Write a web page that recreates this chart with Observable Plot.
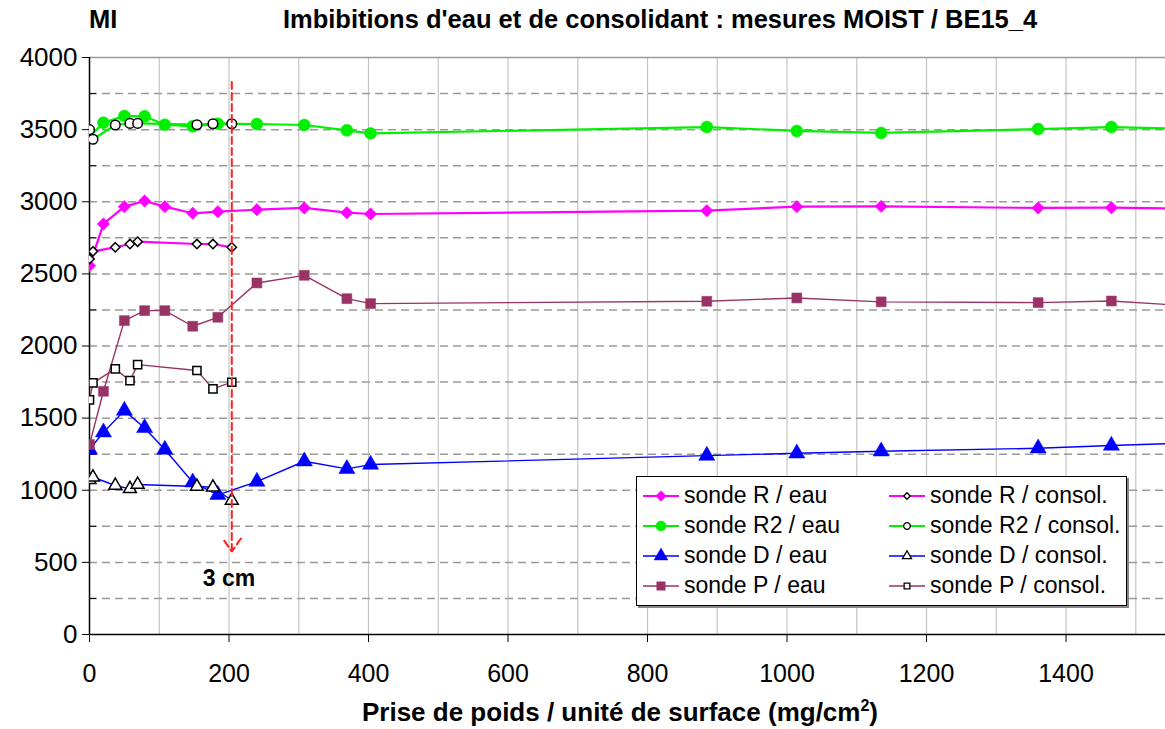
<!DOCTYPE html>
<html><head><meta charset="utf-8">
<script src="https://cdn.jsdelivr.net/npm/d3@7"></script>
<script src="https://cdn.jsdelivr.net/npm/@observablehq/plot@0.6"></script>
<style>
body{margin:0;background:#fff;font-family:'Liberation Sans',Arial,sans-serif;}
#wrap{position:relative;width:1165px;height:729px;overflow:hidden;background:#fff;}
#hdr{position:relative;height:40px;}
.ttl{position:absolute;top:5px;font-weight:bold;font-size:25.5px;white-space:nowrap;color:#000;}
#legend{position:absolute;left:636px;top:476px;width:489px;height:128px;border:1px solid #000;background:#fff;box-shadow:2px 2px 0 #888;}
.li{position:absolute;height:30px;font-size:23px;line-height:30px;white-space:nowrap;}
.li svg{position:absolute;left:0;top:0;}
.li span{position:absolute;left:41px;top:0;}
</style></head><body>
<div id="wrap">
  <div id="hdr">
    <span class="ttl" style="left:89px">MI</span>
    <span class="ttl" style="left:660px;transform:translateX(-50%)">Imbibitions d'eau et de consolidant : mesures MOIST / BE15_4</span>
  </div>
  <div id="chart"></div>
  <div id="legend"></div>
</div>
<script>
// ---- data ----
const eauX = [0, 20, 50, 79, 108, 148, 184, 240, 308, 369, 403, 885, 1014, 1135, 1360, 1465, 1600];
const rEau  = [2557, 2846, 2966, 3005, 2966, 2920, 2931, 2945, 2957, 2924, 2915, 2938, 2966, 2968, 2957, 2959, 2950];
const r2Eau = [3451, 3548, 3595, 3592, 3534, 3523, 3541, 3539, 3532, 3495, 3474, 3518, 3491, 3477, 3504, 3518, 3502];
const dEau  = [1282, 1402, 1552, 1432, 1282, 1055, 968, 1060, 1201, 1148, 1178, 1240, 1256, 1270, 1291, 1310, 1331];
const pEau  = [1317, 1686, 2176, 2245, 2245, 2137, 2199, 2437, 2490, 2328, 2294, 2310, 2333, 2306, 2301, 2312, 2271];

const consolX = [0, 5, 37, 58, 69, 154, 177, 204];
const rCon  = [2603, 2656, 2684, 2707, 2723, 2707, 2707, 2684];
const r2Con = [3500, 3433, 3532, 3543, 3543, 3534, 3541, 3541];
const dCon  = [1072, 1090, 1033, 1010, 1040, 1026, 1021, 929];
const pCon  = [1626, 1744, 1841, 1760, 1871, 1830, 1703, 1749];

const seriesNames = ["sonde R / eau", "sonde R / consol.", "sonde R2 / eau", "sonde R2 / consol.",
                     "sonde D / eau", "sonde D / consol.", "sonde P / eau", "sonde P / consol."];

const xTicks = [0, 200, 400, 600, 800, 1000, 1200, 1400];
const xGrid = [100, 200, 300, 400, 500, 600, 700, 800, 900, 1000, 1100, 1200, 1300, 1400, 1500];
const yTicks = [0, 500, 1000, 1500, 2000, 2500, 3000, 3500, 4000];
const yMinor = [250, 750, 1250, 1750, 2250, 2750, 3250, 3750];
const yGrid = [250, 500, 750, 1000, 1250, 1500, 1750, 2000, 2250, 2500, 2750, 3000, 3250, 3500, 3750];

const arrowX = 204, arrowTop = 3830, arrowBottom = 575;
const noteText = "3 cm", noteX = 200, noteY = 385;
const xLabel = "Prise de poids / unité de surface (mg/cm";

// ---- styles ----
const styles = [
  {name: seriesNames[0], xs: eauX, ys: rEau, color: "#ff00ff", symbol: "diamond2", filled: true, r: 5.6, sw: 2.2},
  {name: seriesNames[1], xs: consolX, ys: rCon, color: "#ff00ff", symbol: "diamond2", filled: false, r: 4.2, sw: 2.2},
  {name: seriesNames[2], xs: eauX, ys: r2Eau, color: "#00f000", symbol: "circle", filled: true, r: 6, sw: 2.2},
  {name: seriesNames[3], xs: consolX, ys: r2Con, color: "#00f000", symbol: "circle", filled: false, r: 4.8, sw: 2.2},
  {name: seriesNames[4], xs: eauX, ys: dEau, color: "#0000ff", symbol: "triangle", filled: true, r: 6, sw: 1.4},
  {name: seriesNames[5], xs: consolX, ys: dCon, color: "#0000ff", symbol: "triangle", filled: false, r: 4.8, sw: 1.4},
  {name: seriesNames[6], xs: eauX, ys: pEau, color: "#993366", symbol: "square", filled: true, r: 5.6, sw: 1.4},
  {name: seriesNames[7], xs: consolX, ys: pCon, color: "#993366", symbol: "square", filled: false, r: 4.6, sw: 1.4}
];

const seriesMarks = [];
for (const s of styles) {
  const data = s.xs.map((x, i) => ({x, y: s.ys[i]}));
  seriesMarks.push(Plot.line(data, {x: "x", y: "y", stroke: s.color, strokeWidth: s.sw, clip: true}));
}
for (const s of styles) {
  const data = s.xs.map((x, i) => ({x, y: s.ys[i]}));
  seriesMarks.push(Plot.dot(data, {
    x: "x", y: "y", symbol: () => s.symbol, r: s.r, clip: true,
    fill: s.filled ? s.color : "white",
    stroke: s.filled ? s.color : "black",
    strokeWidth: s.filled ? 0.5 : 1.5
  }));
}

const fmt = d3.format("d");
const chart = Plot.plot({
  width: 1165, height: 689,
  marginLeft: 89, marginRight: 0, marginTop: 17, marginBottom: 95,
  style: {fontFamily: "'Liberation Sans', Arial, sans-serif", color: "#000", background: "#fff"},
  x: {domain: [0, 1542.6]},
  y: {domain: [0, 4000]},
  symbol: {type: "identity"},
  marks: [
    Plot.ruleX(xGrid, {stroke: "#c4c4c4", strokeWidth: 1.2}),
    Plot.ruleY(yGrid, {stroke: "#9a9a9a", strokeWidth: 1.5, strokeDasharray: "8,5"}),
    Plot.ruleY([4000], {stroke: "#9a9a9a", strokeWidth: 1.5}),
    Plot.ruleX([0], {stroke: "#000", strokeWidth: 1.5}),
    Plot.ruleY([0], {stroke: "#000", strokeWidth: 1.5}),
    Plot.ruleY(yMinor, {stroke: "#000", strokeWidth: 1, insetRight: 1069}),
    Plot.axisX({ticks: xTicks, tickFormat: fmt, tickSize: 8, tickPadding: 22, fontSize: 25, label: null, stroke: "#000"}),
    Plot.axisY({ticks: yTicks, tickFormat: fmt, tickSize: 7, tickPadding: 5, fontSize: 26, label: null, stroke: "#000"}),
    ...seriesMarks,
    Plot.arrow([{x: arrowX, y1: arrowTop, y2: arrowBottom}], {
      x1: "x", x2: "x", y1: "y1", y2: "y2", stroke: "#ff2020", strokeWidth: 2,
      strokeDasharray: "7,4", headLength: 12, headAngle: 70
    }),
    Plot.text([{x: noteX, y: noteY, t: noteText}], {
      x: "x", y: "y", text: "t", fontSize: 23, fontWeight: "bold", fill: "#000", textAnchor: "middle"
    })
  ]
});
document.getElementById("chart").appendChild(chart);

// x-axis label with superscript
const svg = d3.select(chart);
const lab = svg.append("text")
  .attr("x", 620).attr("y", 681)
  .attr("text-anchor", "middle")
  .attr("font-size", 26).attr("font-weight", "bold")
  .attr("font-family", "'Liberation Sans', Arial, sans-serif")
  .attr("fill", "#000");
lab.append("tspan").text(xLabel);
lab.append("tspan").attr("dy", -10).attr("font-size", 16).text("2");
lab.append("tspan").attr("dy", 10).text(")");

// legend
const legend = document.getElementById("legend");
styles.forEach((s, i) => {
  const col = i % 2, row = Math.floor(i / 2);
  const div = document.createElement("div");
  div.className = "li";
  div.style.left = (col === 0 ? 6 : 252) + "px";
  div.style.top = (3 + row * 30) + "px";
  const sv = d3.create("svg").attr("width", 40).attr("height", 30);
  sv.append("line").attr("x1", 0).attr("x2", 36).attr("y1", 16).attr("y2", 16)
    .attr("stroke", s.color).attr("stroke-width", s.sw);
  const symMap = {diamond2: d3.symbolDiamond2, circle: d3.symbolCircle, triangle: d3.symbolTriangle, square: d3.symbolSquare};
  const rr = s.filled ? s.r * 0.85 : s.r * 0.7;
  sv.append("path").attr("d", d3.symbol(symMap[s.symbol], Math.PI * rr * rr)())
    .attr("transform", "translate(18,16)")
    .attr("fill", s.filled ? s.color : "white")
    .attr("stroke", s.filled ? s.color : "black").attr("stroke-width", s.filled ? 0.5 : 1.3);
  div.appendChild(sv.node());
  const sp = document.createElement("span");
  sp.textContent = s.name;
  div.appendChild(sp);
  legend.appendChild(div);
});
</script>
</body></html>
